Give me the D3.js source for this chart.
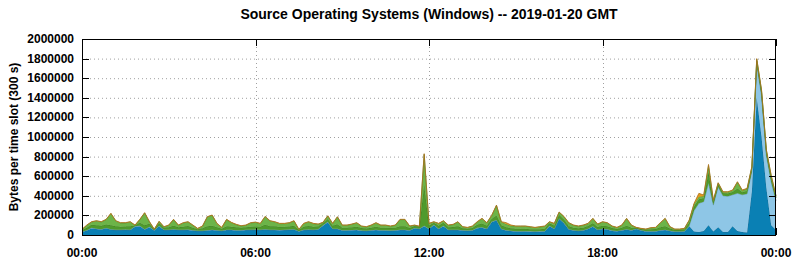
<!DOCTYPE html>
<html>
<head>
<meta charset="utf-8"/>
<title>Source Operating Systems (Windows)</title>
<script src="https://d3js.org/d3.v7.min.js"></script>
<style>
  body { margin: 0; padding: 0; background: #fff; }
  svg text { font-family: "Liberation Sans", Arial, sans-serif; font-weight: bold; fill: #000; }
</style>
</head>
<body>
<div id="chart"></div>
<script>
// 10-minute slots, 00:00 .. 24:00 (values in thousands of bytes)
const slotHours = d3.range(145).map(i => i / 6);

const darkBlue = [
  30,45,70,60,55,68,55,50,50,52, 50,85,90,55,80,45,90,50,50,55,
  50,50,52,45,40,40,45,50,45,40, 50,50,45,45,50,50,52,50,55,50,
  50,48,50,52,55,35,50,52,50,55, 95,130,60,60,45,45,48,50,42,40,
  45,50,45,45,42,45,50,50,45,68, 60,90,60,100,60,90,50,50,50,45,
  42,45,70,75,60,130,150,60,45,40, 35,35,35,33,32,33,35,90,60,165,
  120,55,45,40,45,60,85,50,60,55, 42,38,45,55,45,60,45,35,35,35,
  45,50,40,32,32,35,90,35,30,40, 100,35,80,30,30,90,40,30,25,450,
  1400,1000,480,100,50
];
const lightBlue = [
  4,4,4,4,4,4,4,4,4,4, 4,4,4,4,4,4,4,4,4,4,
  4,4,4,4,4,4,4,4,4,4, 4,4,4,4,4,4,4,4,4,4,
  4,4,4,4,4,4,4,4,4,4, 4,4,4,4,4,4,4,4,4,4,
  4,4,4,4,4,4,4,4,4,4, 4,4,4,4,4,4,4,4,4,4,
  4,4,4,4,4,4,4,4,4,4, 4,4,4,4,4,4,4,4,4,4,
  4,4,4,4,4,4,4,4,4,4, 4,4,4,4,4,4,4,4,4,4,
  4,4,4,4,4,4,4,215,293,300, 430,270,410,370,365,320,385,380,395,200,
  340,420,330,440,300
];
const darkGreen = [
  15,25,30,35,35,35,40,35,30,30, 35,8,30,40,30,5,25,20,25,35,
  25,30,35,25,15,25,40,40,30,20, 35,30,30,25,25,30,30,30,45,35,
  35,30,30,30,35,12,30,35,30,28, 22,30,30,45,25,25,28,30,25,22,
  25,30,25,25,25,25,35,35,22,20, 20,420,30,20,30,30,25,28,35,20,
  18,22,30,38,30,30,45,35,30,25, 25,25,25,22,20,22,25,25,30,35,
  35,30,25,25,25,28,30,28,30,30, 25,20,25,35,25,10,12,15,20,22,
  30,35,22,15,15,18,30,40,41,35, 110,30,25,25,28,30,50,25,30,30,
  35,35,35,40,30
];
const lightGreen = [
  6,25,29,44,39,50,119,54,39,37, 44,2,33,126,19,3,18,8,20,63,
  20,39,42,25,6,20,95,107,37,11, 68,42,27,18,20,39,43,32,83,54,
  44,34,32,37,49,4,32,42,32,22, 6,30,22,75,25,25,29,39,18,16,
  25,39,25,25,18,25,68,68,18,7, 3,308,22,9,22,19,20,24,44,13,
  11,18,29,50,29,33,103,34,32,25, 25,25,25,23,19,23,25,14,22,28,
  28,34,25,20,25,24,48,27,39,34, 18,13,25,73,25,1,4,4,13,14,
  44,78,16,7,7,8,26,25,27,20, 65,15,14,12,14,14,64,19,21,15,
  20,20,20,25,15
];
const orange = [
  3,3,3,3,3,3,3,3,3,3, 3,3,3,3,3,3,3,3,3,3,
  3,3,3,3,3,3,3,3,3,3, 3,3,3,3,3,3,3,3,3,3,
  3,3,3,3,3,3,3,3,3,3, 3,3,3,3,3,3,3,3,3,3,
  3,3,3,3,3,3,3,3,3,3, 3,8,3,3,3,3,3,3,3,3,
  3,3,3,3,3,3,3,3,15,8, 3,3,3,3,3,3,3,3,3,3,
  3,3,3,3,3,3,3,3,3,3, 3,3,3,3,3,3,3,3,3,3,
  3,3,3,3,3,3,3,8,34,13, 15,7,5,5,5,5,5,5,5,5,
  5,5,5,5,5
];

const layers = [
  { key: "darkBlue",   values: darkBlue,   fill: "#0a80b4", stroke: "#1a6a90" },
  { key: "lightBlue",  values: lightBlue,  fill: "#8ec6e6", stroke: "#6a9ab4" },
  { key: "darkGreen",  values: darkGreen,  fill: "#4f9a2c", stroke: "#3f7a22" },
  { key: "lightGreen", values: lightGreen, fill: "#6cb448", stroke: "#5a8a30" },
  { key: "orange",     values: orange,     fill: "#e69a1a", stroke: "#a8701a" }
];

const xTickHours = [0, 6, 12, 18, 24];
const xTickLabels = ["00:00", "06:00", "12:00", "18:00", "00:00"];
const yTicks = d3.range(0, 2000001, 200000);

const W = 795, H = 260;
const margin = { top: 39, right: 19, bottom: 25, left: 82 };
const iw = W - margin.left - margin.right;
const ih = H - margin.top - margin.bottom;

const svg = d3.select("#chart").append("svg")
  .attr("width", W).attr("height", H);

const g = svg.append("g").attr("transform", `translate(${margin.left},${margin.top})`);

const x = d3.scaleLinear().domain([0, 24]).range([0, iw]);
const y = d3.scaleLinear().domain([0, 2000000]).range([ih, 0]);

// rows for stacking
const rows = slotHours.map((h, i) => {
  const r = { h };
  layers.forEach(l => r[l.key] = l.values[i] * 1000);
  return r;
});
const stacked = d3.stack().keys(layers.map(l => l.key))(rows);

// grid
g.append("g").selectAll("line").data(yTicks.slice(1, -1)).join("line")
  .attr("x1", 0).attr("x2", iw)
  .attr("y1", d => y(d) + 0.5).attr("y2", d => y(d) + 0.5)
  .attr("stroke", "#a0a0a0").attr("stroke-dasharray", "1,3");
g.append("g").selectAll("line").data(xTickHours.slice(1, -1)).join("line")
  .attr("x1", d => Math.round(x(d)) + 0.5).attr("x2", d => Math.round(x(d)) + 0.5)
  .attr("y1", 0).attr("y2", ih)
  .attr("stroke", "#a0a0a0").attr("stroke-dasharray", "1,3");

// areas
const area = d3.area()
  .x(d => x(d.data.h))
  .y0(d => y(d[0]))
  .y1(d => y(d[1]));
const topLine = d3.line()
  .x(d => x(d.data.h))
  .y(d => y(d[1]));

stacked.forEach((s, i) => {
  g.append("path").datum(s)
    .attr("fill", layers[i].fill)
    .attr("d", area);
  g.append("path").datum(s)
    .attr("fill", "none")
    .attr("stroke", layers[i].stroke)
    .attr("stroke-width", 0.8)
    .attr("d", topLine);
});

// border
g.append("rect").attr("x", 0.5).attr("y", 0.5)
  .attr("width", iw - 1).attr("height", ih)
  .attr("fill", "none").attr("stroke", "#000").attr("stroke-width", 1);

// y ticks (inward, mirrored)
const tickLen = 7;
g.append("g").selectAll("line").data(yTicks).join("line")
  .attr("x1", 0).attr("x2", tickLen)
  .attr("y1", d => Math.round(y(d)) + 0.5).attr("y2", d => Math.round(y(d)) + 0.5)
  .attr("stroke", "#000");
g.append("g").selectAll("line").data(yTicks).join("line")
  .attr("x1", iw - tickLen).attr("x2", iw)
  .attr("y1", d => Math.round(y(d)) + 0.5).attr("y2", d => Math.round(y(d)) + 0.5)
  .attr("stroke", "#000");
// x ticks
g.append("g").selectAll("line").data(xTickHours).join("line")
  .attr("x1", d => Math.round(x(d)) + 0.5).attr("x2", d => Math.round(x(d)) + 0.5)
  .attr("y1", ih).attr("y2", ih - tickLen)
  .attr("stroke", "#000");
g.append("g").selectAll("line").data(xTickHours).join("line")
  .attr("x1", d => Math.round(x(d)) + 0.5).attr("x2", d => Math.round(x(d)) + 0.5)
  .attr("y1", 0).attr("y2", tickLen)
  .attr("stroke", "#000");

// tick labels
g.append("g").selectAll("text").data(yTicks).join("text")
  .attr("x", -8).attr("y", d => y(d) + 4)
  .attr("text-anchor", "end")
  .style("font-size", "12px")
  .text(d => d);
g.append("g").selectAll("text").data(xTickHours).join("text")
  .attr("x", d => x(d)).attr("y", ih + 22)
  .attr("text-anchor", "middle")
  .style("font-size", "12px")
  .text((d, i) => xTickLabels[i]);

// axis label
svg.append("text")
  .attr("transform", `translate(18,${margin.top + ih / 2}) rotate(-90)`)
  .attr("text-anchor", "middle")
  .style("font-size", "12px")
  .text("Bytes per time slot (300 s)");

// title
svg.append("text")
  .attr("x", margin.left + iw / 2).attr("y", 19)
  .attr("text-anchor", "middle")
  .style("font-size", "14px")
  .text("Source Operating Systems (Windows) -- 2019-01-20 GMT");
</script>
</body>
</html>
